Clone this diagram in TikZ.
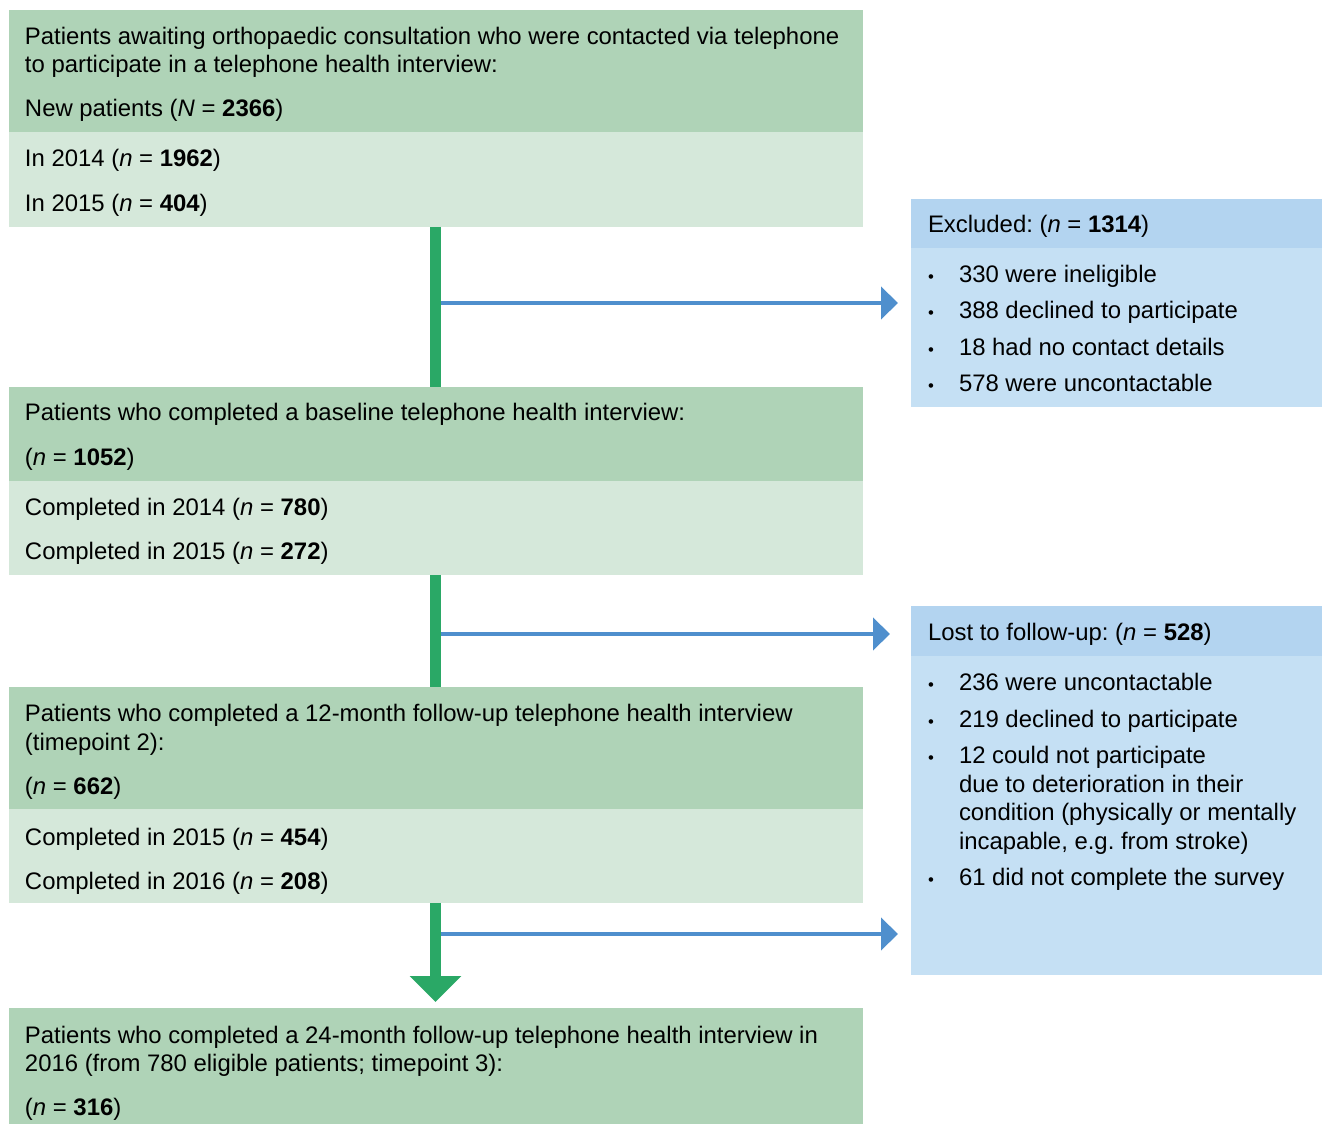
\documentclass[tikz,border=0pt]{standalone}
\usepackage{fontspec}
\setmainfont{Liberation Sans}
\usetikzlibrary{arrows.meta}
\definecolor{hdgreen}{RGB}{175,211,183}
\definecolor{ltgreen}{RGB}{213,232,218}
\definecolor{hdblue}{RGB}{179,212,240}
\definecolor{ltblue}{RGB}{197,224,244}
\definecolor{spine}{RGB}{42,168,102}
\definecolor{flow}{RGB}{79,143,205}
\newcommand{\nval}[1]{(\textit{n} = \textbf{#1})}
\frenchspacing
\begin{document}
\begin{tikzpicture}[x=0.02cm, y=-0.02cm,
		every node/.style={inner sep=0pt, outer sep=0pt},
		mainbox/.style={anchor=north west, minimum width=17.08cm},
		sidebox/.style={anchor=north west, minimum width=8.22cm},
		txt/.style={anchor=base west, font=\fontsize{13.6}{16}\selectfont},
		dot/.style={anchor=base, font=\fontsize{9.5}{10}\selectfont},
		spineline/.style={draw=spine, line width=6.2pt},
		flowline/.style={draw=flow, line width=2.8pt, -{Triangle[length=0.34cm,width=0.64cm]}}]
	\useasboundingbox (0,0) rectangle (1322,1124);

	% left column boxes
	\node[mainbox, fill=hdgreen, minimum height=2.44cm] (contacted) at (9,10) {};
	\node[mainbox, fill=ltgreen, minimum height=1.90cm] (contactedyr) at (9,132) {};
	\node[mainbox, fill=hdgreen, minimum height=1.88cm] (baseline) at (9,387) {};
	\node[mainbox, fill=ltgreen, minimum height=1.88cm] (baselineyr) at (9,481) {};
	\node[mainbox, fill=hdgreen, minimum height=2.44cm] (fupA) at (9,687) {};
	\node[mainbox, fill=ltgreen, minimum height=1.88cm] (fupAyr) at (9,809) {};
	\node[mainbox, fill=hdgreen, minimum height=2.32cm] (fupB) at (9,1008) {};

	% right column boxes
	\node[sidebox, fill=hdblue, minimum height=0.98cm] (excl) at (911,199) {};
	\node[sidebox, fill=ltblue, minimum height=3.18cm] (exclbody) at (911,248) {};
	\node[sidebox, fill=hdblue, minimum height=1.00cm] (lost) at (911,606) {};
	\node[sidebox, fill=ltblue, minimum height=6.38cm] (lostbody) at (911,656) {};

	% connectors
	\coordinate (spA) at (435.5,303);
	\coordinate (spB) at (435.5,634);
	\coordinate (spC) at (435.5,934);
	\draw[flowline, shorten >=0.26cm] (spA) -- (spA -| exclbody.west);
	\draw[flowline, shorten >=0.42cm] (spB) -- (spB -| lost.west);
	\draw[flowline, shorten >=0.26cm] (spC) -- (spC -| lostbody.west);
	\draw[spineline] (contactedyr.south -| spA) -- (baseline.north -| spA);
	\draw[spineline] (baselineyr.south -| spB) -- (fupA.north -| spB);
	\draw[spineline, -{Triangle[length=0.52cm,width=1.0cm]}, shorten >=0.12cm] (fupAyr.south -| spC) -- (fupB.north -| spC);

	% texts left
	\node[txt] (t1a) at (25,45) {Patients awaiting orthopaedic consultation who were contacted via telephone};
	\node[txt] (t1b) at (25,73) {to participate in a telephone health interview:};
	\node[txt] (t1c) at (25,117) {New patients (\textit{N} = \textbf{2366})};
	\node[txt] (t1d) at (25,167) {In 2014 \nval{1962}};
	\node[txt] (t1e) at (25,212) {In 2015 \nval{404}};

	\node[txt] (t2a) at (25,421) {Patients who completed a baseline telephone health interview:};
	\node[txt] (t2b) at (25,466) {\nval{1052}};
	\node[txt] (t2c) at (25,516) {Completed in 2014 \nval{780}};
	\node[txt] (t2d) at (25,560) {Completed in 2015 \nval{272}};

	\node[txt] (t3a) at (25,722) {Patients who completed a 12-month follow-up telephone health interview};
	\node[txt] (t3b) at (25,750) {(timepoint 2):};
	\node[txt] (t3c) at (25,794) {\nval{662}};
	\node[txt] (t3d) at (25,845) {Completed in 2015 \nval{454}};
	\node[txt] (t3e) at (25,889) {Completed in 2016 \nval{208}};

	\node[txt] (t4a) at (25,1043) {Patients who completed a 24-month follow-up telephone health interview in};
	\node[txt] (t4b) at (25,1071) {2016 (from 780 eligible patients; timepoint 3):};
	\node[txt] (t4c) at (25,1115) {\nval{316}};

	% texts right
	\node[txt] (e0) at (928,233) {Excluded: \nval{1314}};
	\foreach \y/\s [count=\i] in {283/330 were ineligible, 319/388 declined to participate,
			356/18 had no contact details, 392/578 were uncontactable}{
		\node[dot] (ed\i) at (931,\y) {•};
		\node[txt] (e\i) at (959,\y) {\s};
	}

	\node[txt] (l0) at (928,641) {Lost to follow-up: \nval{528}};
	\foreach \y/\s [count=\i] in {691/236 were uncontactable, 727/219 declined to participate,
			764/12 could not participate, 885/61 did not complete the survey}{
		\node[dot] (ld\i) at (931,\y) {•};
		\node[txt] (l\i) at (959,\y) {\s};
	}
	\node[txt] (l3b) at (959,792) {due to deterioration in their};
	\node[txt] (l3c) at (959,820) {condition (physically or mentally};
	\node[txt] (l3d) at (959,849) {incapable, e.g. from stroke)};
\end{tikzpicture}
\end{document}
